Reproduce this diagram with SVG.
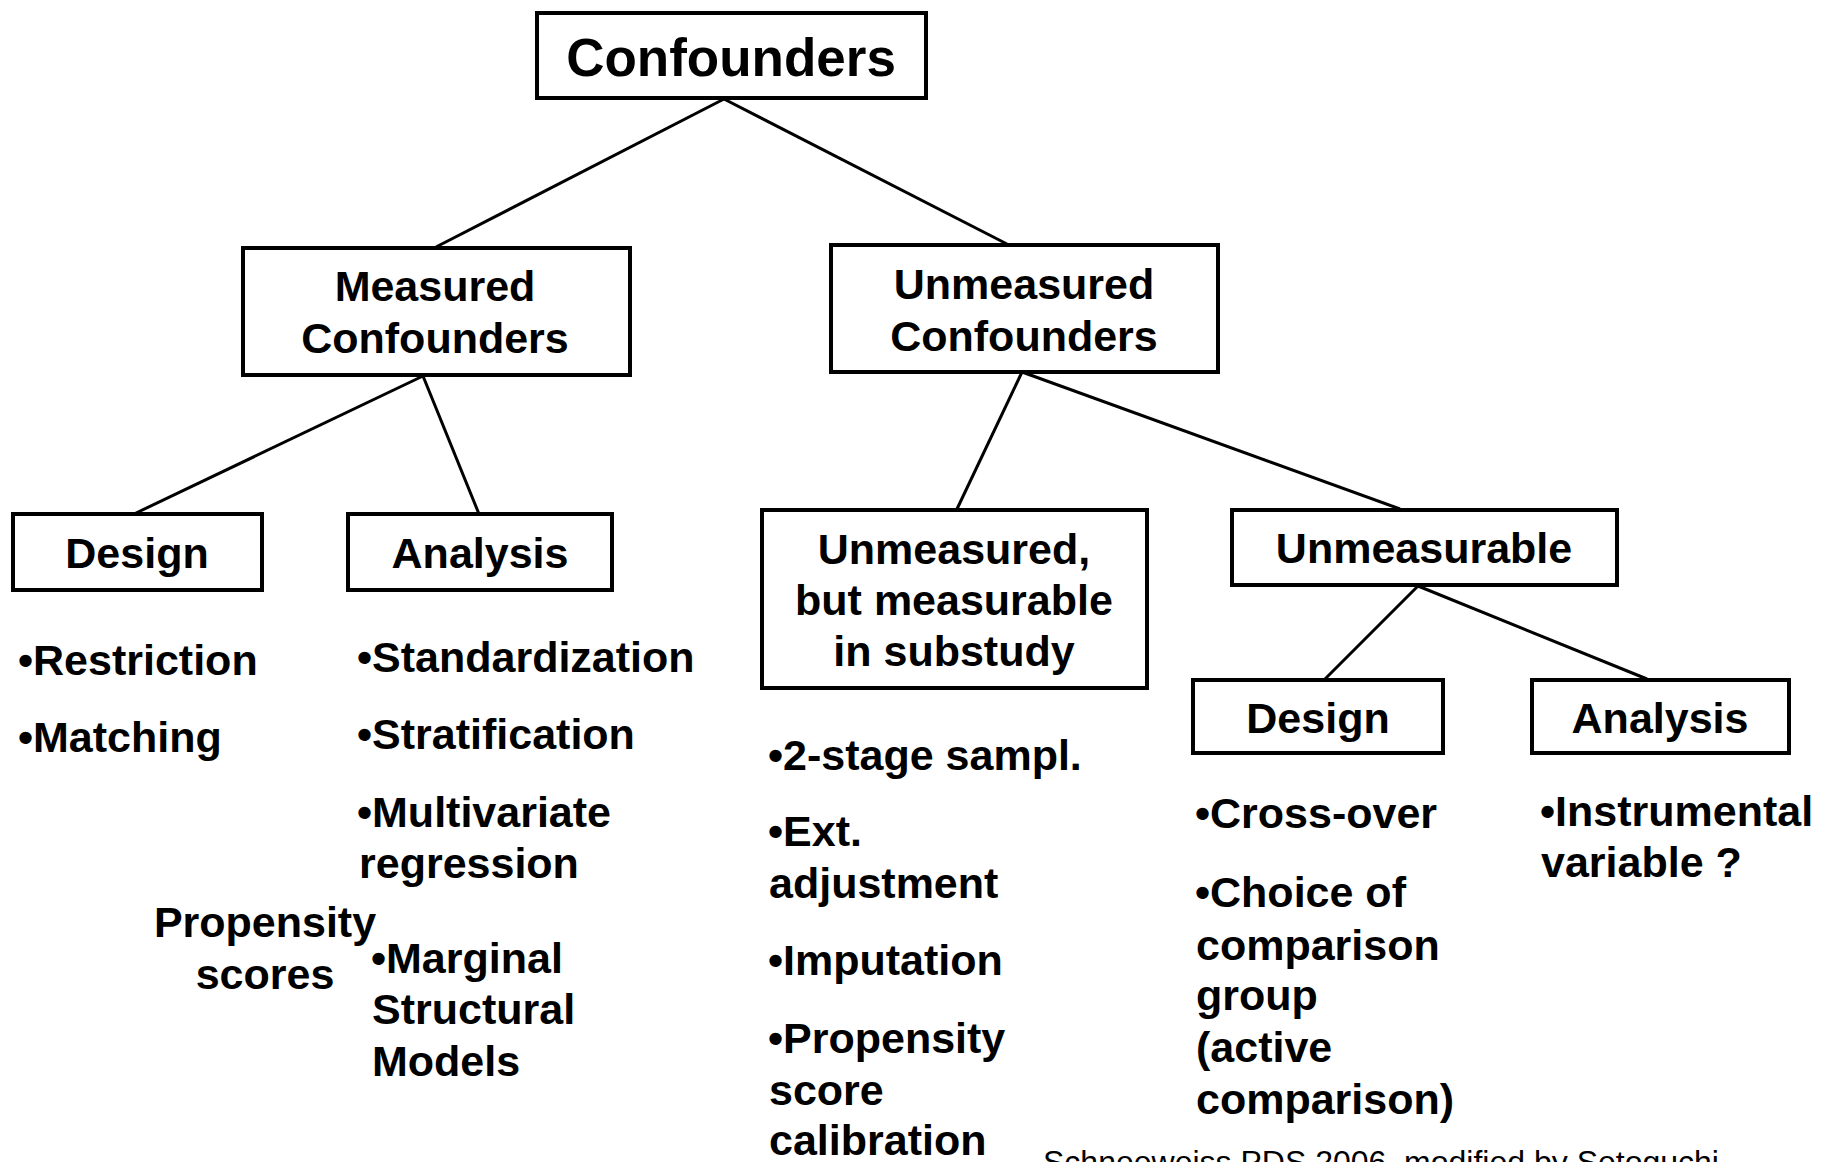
<svg xmlns="http://www.w3.org/2000/svg" width="1831" height="1162" viewBox="0 0 1831 1162">
<style>
  .box { fill: #ffffff; stroke: #000000; stroke-width: 4; }
  .edge { stroke: #000000; stroke-width: 3; fill: none; }
  .lbl { font-family: "Liberation Sans", Arial, sans-serif; font-weight: bold; font-size: 43px; fill: #000000; }
  .mid { text-anchor: middle; }
  .title { font-size: 53px; }
  .foot { font-family: "Liberation Sans", Arial, sans-serif; font-size: 32px; fill: #000000; }
</style>
<rect width="1831" height="1162" fill="#ffffff"/>
<g id="connectors">
  <line class="edge" x1="724" y1="99" x2="436" y2="247"/>
  <line class="edge" x1="724" y1="99" x2="1007" y2="244"/>
  <line class="edge" x1="423" y1="376" x2="134" y2="514"/>
  <line class="edge" x1="423" y1="376" x2="479" y2="514"/>
  <line class="edge" x1="1022" y1="372" x2="957" y2="509"/>
  <line class="edge" x1="1022" y1="372" x2="1400" y2="509"/>
  <line class="edge" x1="1418" y1="586" x2="1325" y2="679"/>
  <line class="edge" x1="1418" y1="586" x2="1647" y2="679"/>
</g>
<g id="confounders">
  <rect class="box" x="537" y="13" width="389" height="85"/>
  <text class="lbl mid title" x="731" y="76">Confounders</text>
</g>
<g id="measured">
  <rect class="box" x="243" y="248" width="387" height="127"/>
  <text class="lbl mid" x="435" y="301">Measured</text>
  <text class="lbl mid" x="435" y="353">Confounders</text>
</g>
<g id="unmeasured">
  <rect class="box" x="831" y="245" width="387" height="127"/>
  <text class="lbl mid" x="1024" y="299">Unmeasured</text>
  <text class="lbl mid" x="1024" y="351">Confounders</text>
</g>
<g id="design-measured">
  <rect class="box" x="13" y="514" width="249" height="76"/>
  <text class="lbl mid" x="137" y="568">Design</text>
</g>
<g id="analysis-measured">
  <rect class="box" x="348" y="514" width="264" height="76"/>
  <text class="lbl mid" x="480" y="568">Analysis</text>
</g>
<g id="substudy">
  <rect class="box" x="762" y="510" width="385" height="178"/>
  <text class="lbl mid" x="954" y="564">Unmeasured,</text>
  <text class="lbl mid" x="954" y="615">but measurable</text>
  <text class="lbl mid" x="954" y="666">in substudy</text>
</g>
<g id="unmeasurable">
  <rect class="box" x="1232" y="510" width="385" height="75"/>
  <text class="lbl mid" x="1424" y="563">Unmeasurable</text>
</g>
<g id="design-unmeasurable">
  <rect class="box" x="1193" y="680" width="250" height="73"/>
  <text class="lbl mid" x="1318" y="733">Design</text>
</g>
<g id="analysis-unmeasurable">
  <rect class="box" x="1532" y="680" width="257" height="73"/>
  <text class="lbl mid" x="1660" y="733">Analysis</text>
</g>
<g id="list-design-measured">
  <text class="lbl" x="18" y="675">•Restriction</text>
  <text class="lbl" x="18" y="752">•Matching</text>
</g>
<g id="list-analysis-measured">
  <text class="lbl" x="357" y="672">•Standardization</text>
  <text class="lbl" x="357" y="749">•Stratification</text>
  <text class="lbl" x="357" y="827">•Multivariate</text>
  <text class="lbl" x="359" y="878">regression</text>
  <text class="lbl mid" x="265" y="937">Propensity</text>
  <text class="lbl mid" x="265" y="989">scores</text>
  <text class="lbl" x="371" y="973">•Marginal</text>
  <text class="lbl" x="372" y="1024">Structural</text>
  <text class="lbl" x="372" y="1076">Models</text>
</g>
<g id="list-substudy">
  <text class="lbl" x="768" y="770">•2-stage sampl.</text>
  <text class="lbl" x="768" y="846">•Ext.</text>
  <text class="lbl" x="769" y="898">adjustment</text>
  <text class="lbl" x="768" y="975">•Imputation</text>
  <text class="lbl" x="768" y="1053">•Propensity</text>
  <text class="lbl" x="769" y="1105">score</text>
  <text class="lbl" x="769" y="1155">calibration</text>
</g>
<g id="list-design-unmeasurable">
  <text class="lbl" x="1195" y="828">•Cross-over</text>
  <text class="lbl" x="1195" y="907">•Choice of</text>
  <text class="lbl" x="1196" y="960">comparison</text>
  <text class="lbl" x="1196" y="1010">group</text>
  <text class="lbl" x="1196" y="1062">(active</text>
  <text class="lbl" x="1196" y="1114">comparison)</text>
</g>
<g id="list-analysis-unmeasurable">
  <text class="lbl" x="1540" y="826">•Instrumental</text>
  <text class="lbl" x="1541" y="877">variable ?</text>
</g>
<text class="foot" x="1043" y="1173">Schneeweiss PDS 2006, modified by Setoguchi</text>
</svg>
